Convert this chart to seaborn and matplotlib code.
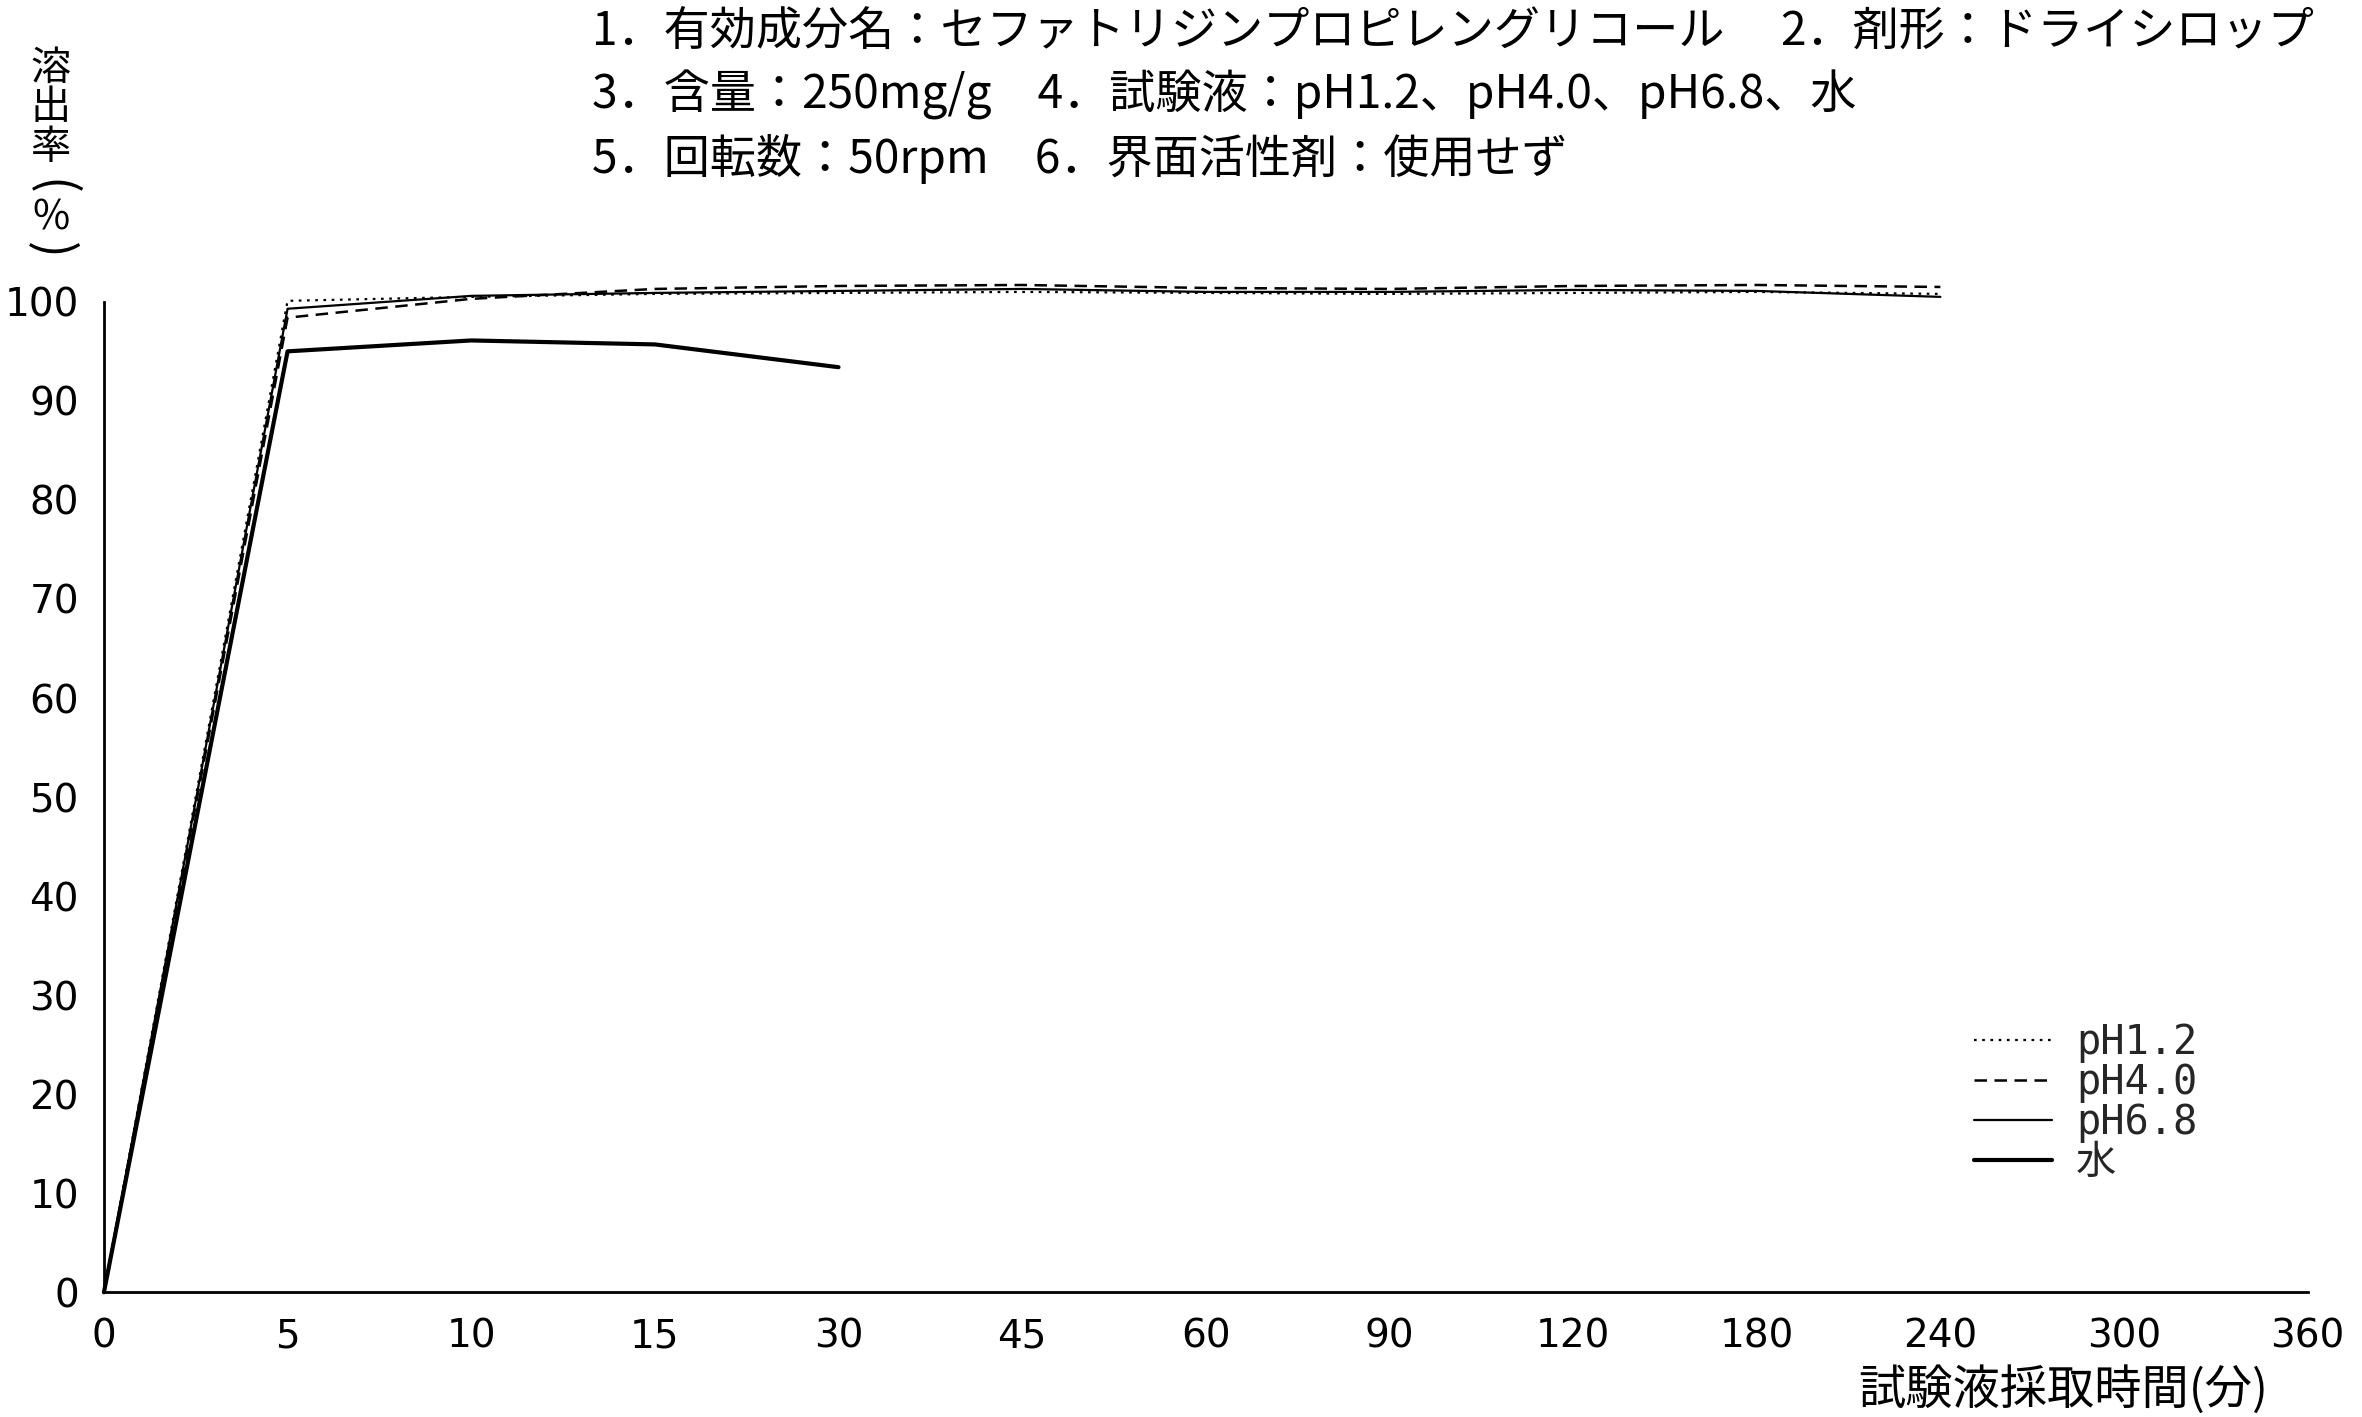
import numpy as np
import pandas as pd
import matplotlib
matplotlib.use("Agg")
import matplotlib.pyplot as plt
import seaborn as sns

# ---- data ----
time_labels = ["0", "5", "10", "15", "30", "45", "60", "90", "120", "180", "240", "300", "360"]
times_long = ["0", "5", "10", "15", "30", "45", "60", "90", "120", "180", "240"]
times_water = ["0", "5", "10", "15", "30"]
ph12 = [0, 100.1, 100.5, 100.8, 100.9, 101.0, 100.9, 100.8, 100.9, 101.0, 100.8]
ph40 = [0, 98.4, 100.3, 101.3, 101.6, 101.7, 101.4, 101.3, 101.6, 101.7, 101.5]
ph68 = [0, 99.3, 100.6, 100.9, 101.1, 101.3, 101.0, 101.0, 101.2, 101.1, 100.5]
water = [0, 95.0, 96.1, 95.7, 93.4]
series_names = ["pH1.2", "pH4.0", "pH6.8", "水"]
y_ticks = [0, 10, 20, 30, 40, 50, 60, 70, 80, 90, 100]

title_lines = [
    "1．有効成分名：セファトリジンプロピレングリコール　 2．剤形：ドライシロップ",
    "3．含量：250mg/g　4．試験液：pH1.2、pH4.0、pH6.8、水",
    "5．回転数：50rpm　6．界面活性剤：使用せず",
]
ylabel_chars = ["溶", "出", "率", "(", "%", ")"]
xlabel = "試験液採取時間(分)"

sns.set_theme(style="white")
plt.rcParams['font.family'] = ['Noto Sans CJK JP', 'DejaVu Sans']

fig = plt.figure(figsize=(23.62, 14.17), dpi=100)
ax = fig.add_axes([0.044, 0.088, 0.933, 0.699])

def positions(ts):
    return [time_labels.index(t) for t in ts]

styles = {
    "pH1.2": dict(linestyle=(0, (1.2, 2.5)), linewidth=1.6),
    "pH4.0": dict(linestyle=(0, (5, 3)), linewidth=1.8),
    "pH6.8": dict(linestyle="-", linewidth=1.6),
    "水": dict(linestyle="-", linewidth=3.0),
}
data_map = {
    "pH1.2": (times_long, ph12),
    "pH4.0": (times_long, ph40),
    "pH6.8": (times_long, ph68),
    "水": (times_water, water),
}
for name in series_names:
    ts, vals = data_map[name]
    df = pd.DataFrame({"x": positions(ts), "y": vals})
    sns.lineplot(data=df, x="x", y="y", ax=ax, color="black", label=name,
                 clip_on=False, **styles[name])

ax.set_xlim(0, len(time_labels) - 1)
ax.set_ylim(0, 100)
ax.set_xticks(range(len(time_labels)))
ax.set_xticklabels(time_labels)
ax.set_yticks(y_ticks)
ax.set_yticklabels([str(v) for v in y_ticks])
ax.set_xlabel("")
ax.set_ylabel("")
for s in ["top", "right"]:
    ax.spines[s].set_visible(False)
for s in ["left", "bottom"]:
    ax.spines[s].set_color("black")
    ax.spines[s].set_linewidth(2)
ax.tick_params(axis="both", direction="in", length=11, width=1.5, colors="black",
               labelsize=27, pad=18)
for lab in ax.get_xticklabels() + ax.get_yticklabels():
    lab.set_fontfamily(['Liberation Sans Narrow', 'DejaVu Sans'])
    lab.set_fontsize(28)

leg = ax.legend(loc="upper left", bbox_to_anchor=(0.827, 0.292),
                bbox_transform=fig.transFigure, frameon=False, borderpad=0,
                handlelength=1.95, handletextpad=0.6, labelspacing=0.0,
                prop={"family": ['DejaVu Sans Mono', 'Noto Sans CJK JP'], "size": 29})

# title block
for i, line in enumerate(title_lines):
    fig.text(592 / 2362, 1 - (31 + 64 * i) / 1417, line, fontsize=33.2,
             ha="left", va="center", color="black")

# vertical y label
ylabel_y = [68, 108, 148, 187, 218, 250]
for ch, yy in zip(ylabel_chars, ylabel_y):
    is_paren = ch in "()"
    fig.text(51 / 2362, 1 - yy / 1417, ch, fontsize=36 if is_paren else 29,
             rotation=-90 if is_paren else 0,
             ha="center", va="center", color="black")

fig.text(2268 / 2362, 1 - 1390 / 1417, xlabel, fontsize=34, ha="right",
         va="center", color="black")

fig.savefig("out.png", dpi=100, facecolor="white")
